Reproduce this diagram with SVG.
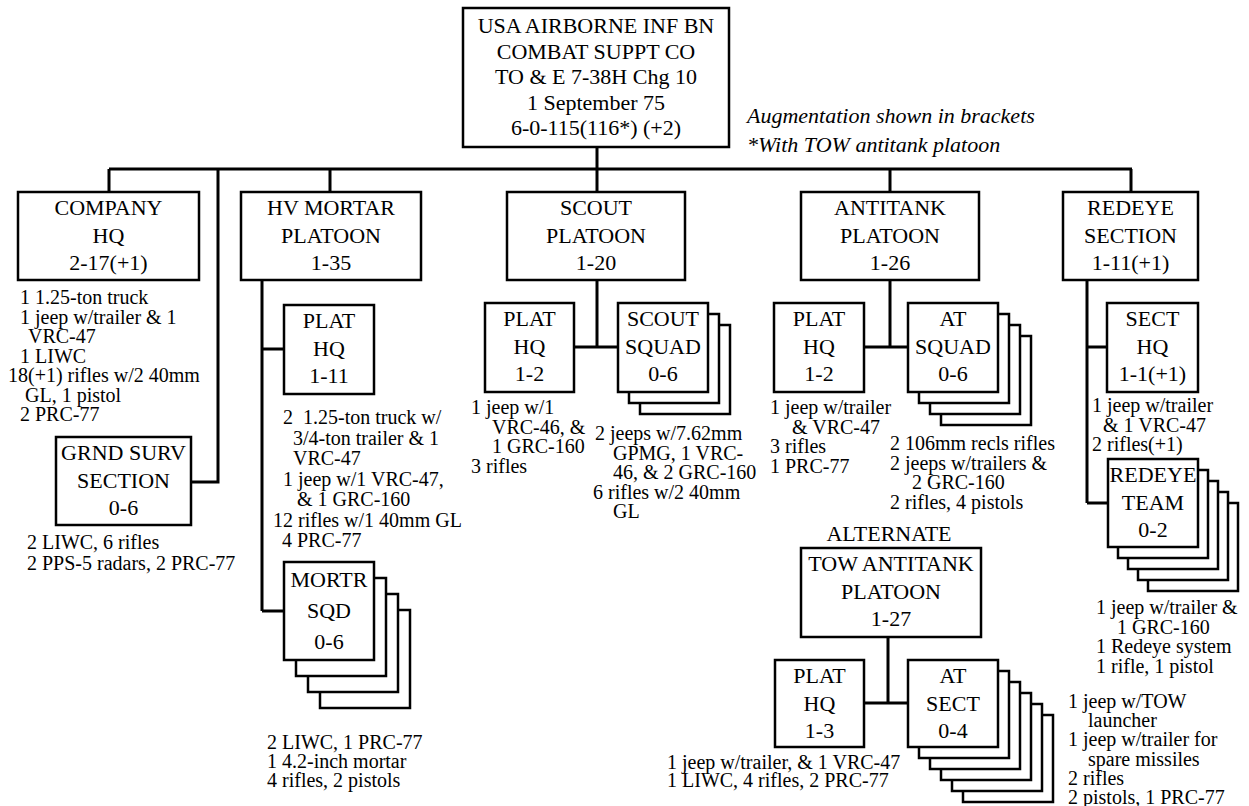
<svg xmlns="http://www.w3.org/2000/svg" width="1249" height="806" viewBox="0 0 1249 806">
<style>
.box{fill:#fff;stroke:#000;stroke-width:2.5}
.c{fill:none;stroke:#000;stroke-width:3}
.t{font-family:"Liberation Serif","Times New Roman",serif;font-size:22px;text-anchor:middle;fill:#000}
.n{font-family:"Liberation Serif","Times New Roman",serif;font-size:20px;fill:#000;white-space:pre}
.i{font-family:"Liberation Serif","Times New Roman",serif;font-size:22px;font-style:italic;fill:#000}
</style>
<rect width="1249" height="806" fill="#fff"/>
<g id="connectors">
<path class="c" d="M597,147V169 M109,169H1132 M109,169V192 M218,169V482H191 M330,169V192 M597,169V192 M890,169V192 M1131,169V192"/>
<path class="c" d="M262,280V611 M262,349H284 M262,611H284"/>
<path class="c" d="M597,280V347 M574,347H618"/>
<path class="c" d="M890,280V347 M864,347H908"/>
<path class="c" d="M1087,280V503 M1087,347H1107 M1087,503H1108"/>
<path class="c" d="M888,637V703 M864,703H908"/>
</g>
<g id="root">
<rect class="box" x="463" y="8" width="266" height="139"/>
<text class="t" x="596" y="33">USA AIRBORNE INF BN</text>
<text class="t" x="596" y="59">COMBAT SUPPT CO</text>
<text class="t" x="596" y="84">TO &amp; E 7-38H Chg 10</text>
<text class="t" x="596" y="110">1 September 75</text>
<text class="t" x="596" y="135">6-0-115(116*) (+2)</text>
</g>
<g id="legend">
<text class="i" x="747" y="123">Augmentation shown in brackets</text>
<text class="i" x="747" y="152">*With TOW antitank platoon</text>
</g>
<g id="company-hq">
<rect class="box" x="18" y="192" width="181" height="88"/>
<text class="t" x="108.5" y="215">COMPANY</text>
<text class="t" x="108.5" y="242.5">HQ</text>
<text class="t" x="108.5" y="270">2-17(+1)</text>
<text class="n" x="20" y="304">1 1.25-ton truck</text>
<text class="n" x="20" y="323.5">1 jeep w/trailer &amp; 1</text>
<text class="n" x="28" y="343">VRC-47</text>
<text class="n" x="20" y="362.5">1 LIWC</text>
<text class="n" x="8" y="382">18(+1) rifles w/2 40mm</text>
<text class="n" x="25" y="401.5">GL, 1 pistol</text>
<text class="n" x="20" y="421">2 PRC-77</text>
</g>
<g id="grnd-surv">
<rect class="box" x="56" y="437" width="135" height="88"/>
<text class="t" x="123.5" y="460">GRND SURV</text>
<text class="t" x="123.5" y="487.5">SECTION</text>
<text class="t" x="123.5" y="515">0-6</text>
<text class="n" x="27" y="549">2 LIWC, 6 rifles</text>
<text class="n" x="27" y="570">2 PPS-5 radars, 2 PRC-77</text>
</g>
<g id="hv-mortar">
<rect class="box" x="241" y="192" width="180" height="88"/>
<text class="t" x="331" y="215">HV MORTAR</text>
<text class="t" x="331" y="242.5">PLATOON</text>
<text class="t" x="331" y="270">1-35</text>
</g>
<g id="hv-plat-hq">
<rect class="box" x="284" y="305" width="90" height="89"/>
<text class="t" x="329" y="328">PLAT</text>
<text class="t" x="329" y="355.5">HQ</text>
<text class="t" x="329" y="383">1-11</text>
<text class="n" x="283" y="424">2  1.25-ton truck w/</text>
<text class="n" x="293" y="444.5">3/4-ton trailer &amp; 1</text>
<text class="n" x="293" y="465">VRC-47</text>
<text class="n" x="283" y="485.5">1 jeep w/1 VRC-47,</text>
<text class="n" x="297" y="506">&amp; 1 GRC-160</text>
<text class="n" x="273" y="526.5">12 rifles w/1 40mm GL</text>
<text class="n" x="282" y="547">4 PRC-77</text>
</g>
<g id="mortr-sqd">
<rect class="box" x="320" y="610" width="90" height="98"/>
<rect class="box" x="308" y="594" width="90" height="98"/>
<rect class="box" x="296" y="578" width="90" height="98"/>
<rect class="box" x="284" y="562" width="90" height="98"/>
<text class="t" x="329" y="587">MORTR</text>
<text class="t" x="329" y="618">SQD</text>
<text class="t" x="329" y="649">0-6</text>
<text class="n" x="267" y="749">2 LIWC, 1 PRC-77</text>
<text class="n" x="267" y="768">1 4.2-inch mortar</text>
<text class="n" x="267" y="787">4 rifles, 2 pistols</text>
</g>
<g id="scout">
<rect class="box" x="507" y="192" width="178" height="88"/>
<text class="t" x="596" y="215">SCOUT</text>
<text class="t" x="596" y="242.5">PLATOON</text>
<text class="t" x="596" y="270">1-20</text>
</g>
<g id="scout-plat-hq">
<rect class="box" x="485" y="303" width="89" height="89"/>
<text class="t" x="529.5" y="326">PLAT</text>
<text class="t" x="529.5" y="353.5">HQ</text>
<text class="t" x="529.5" y="381">1-2</text>
<text class="n" x="471" y="414">1 jeep w/1</text>
<text class="n" x="492" y="433.5">VRC-46, &amp;</text>
<text class="n" x="492" y="453">1 GRC-160</text>
<text class="n" x="471" y="472.5">3 rifles</text>
</g>
<g id="scout-squad">
<rect class="box" x="640" y="325" width="90" height="89"/>
<rect class="box" x="629" y="314" width="90" height="89"/>
<rect class="box" x="618" y="303" width="90" height="89"/>
<text class="t" x="663" y="326">SCOUT</text>
<text class="t" x="663" y="353.5">SQUAD</text>
<text class="t" x="663" y="381">0-6</text>
<text class="n" x="595" y="440">2 jeeps w/7.62mm</text>
<text class="n" x="613" y="459.5">GPMG, 1 VRC-</text>
<text class="n" x="613" y="479">46, &amp; 2 GRC-160</text>
<text class="n" x="593" y="498.5">6 rifles w/2 40mm</text>
<text class="n" x="613" y="518">GL</text>
</g>
<g id="antitank">
<rect class="box" x="801" y="192" width="178" height="88"/>
<text class="t" x="890" y="215">ANTITANK</text>
<text class="t" x="890" y="242.5">PLATOON</text>
<text class="t" x="890" y="270">1-26</text>
</g>
<g id="at-plat-hq">
<rect class="box" x="774" y="303" width="90" height="89"/>
<text class="t" x="819" y="326">PLAT</text>
<text class="t" x="819" y="353.5">HQ</text>
<text class="t" x="819" y="381">1-2</text>
<text class="n" x="770" y="414">1 jeep w/trailer</text>
<text class="n" x="792" y="433.5">&amp; VRC-47</text>
<text class="n" x="770" y="453">3 rifles</text>
<text class="n" x="770" y="472.5">1 PRC-77</text>
</g>
<g id="at-squad">
<rect class="box" x="941" y="336" width="90" height="89"/>
<rect class="box" x="930" y="325" width="90" height="89"/>
<rect class="box" x="919" y="314" width="90" height="89"/>
<rect class="box" x="908" y="303" width="90" height="89"/>
<text class="t" x="953" y="326">AT</text>
<text class="t" x="953" y="353.5">SQUAD</text>
<text class="t" x="953" y="381">0-6</text>
<text class="n" x="890" y="450">2 106mm recls rifles</text>
<text class="n" x="890" y="469.5">2 jeeps w/trailers &amp;</text>
<text class="n" x="912" y="489">2 GRC-160</text>
<text class="n" x="890" y="508.5">2 rifles, 4 pistols</text>
</g>
<g id="redeye">
<rect class="box" x="1063" y="192" width="135" height="88"/>
<text class="t" x="1130.5" y="215">REDEYE</text>
<text class="t" x="1130.5" y="242.5">SECTION</text>
<text class="t" x="1130.5" y="270">1-11(+1)</text>
</g>
<g id="sect-hq">
<rect class="box" x="1107" y="303" width="91" height="89"/>
<text class="t" x="1152.5" y="326">SECT</text>
<text class="t" x="1152.5" y="353.5">HQ</text>
<text class="t" x="1152.5" y="381">1-1(+1)</text>
<text class="n" x="1092" y="412">1 jeep w/trailer</text>
<text class="n" x="1103" y="431.5">&amp; 1 VRC-47</text>
<text class="n" x="1092" y="451">2 rifles(+1)</text>
</g>
<g id="redeye-team">
<rect class="box" x="1148" y="503" width="90" height="88"/>
<rect class="box" x="1138" y="492" width="90" height="88"/>
<rect class="box" x="1128" y="481" width="90" height="88"/>
<rect class="box" x="1118" y="470" width="90" height="88"/>
<rect class="box" x="1108" y="459" width="90" height="88"/>
<text class="t" x="1153" y="482">REDEYE</text>
<text class="t" x="1153" y="509.5">TEAM</text>
<text class="t" x="1153" y="537">0-2</text>
<text class="n" x="1096" y="614">1 jeep w/trailer &amp;</text>
<text class="n" x="1117" y="633.5">1 GRC-160</text>
<text class="n" x="1096" y="653">1 Redeye system</text>
<text class="n" x="1096" y="672.5">1 rifle, 1 pistol</text>
</g>
<g id="tow-platoon">
<text class="t" x="889" y="541">ALTERNATE</text>
<rect class="box" x="801" y="548" width="180" height="89"/>
<text class="t" x="891" y="571">TOW ANTITANK</text>
<text class="t" x="891" y="598.5">PLATOON</text>
<text class="t" x="891" y="626">1-27</text>
</g>
<g id="tow-plat-hq">
<rect class="box" x="775" y="660" width="89" height="87"/>
<text class="t" x="819.5" y="683">PLAT</text>
<text class="t" x="819.5" y="710.5">HQ</text>
<text class="t" x="819.5" y="738">1-3</text>
<text class="n" x="667" y="769">1 jeep w/trailer, &amp; 1 VRC-47</text>
<text class="n" x="667" y="787">1 LIWC, 4 rifles, 2 PRC-77</text>
</g>
<g id="at-sect">
<rect class="box" x="963" y="715" width="90" height="87"/>
<rect class="box" x="952" y="704" width="90" height="87"/>
<rect class="box" x="941" y="693" width="90" height="87"/>
<rect class="box" x="930" y="682" width="90" height="87"/>
<rect class="box" x="919" y="671" width="90" height="87"/>
<rect class="box" x="908" y="660" width="90" height="87"/>
<text class="t" x="953" y="683">AT</text>
<text class="t" x="953" y="710.5">SECT</text>
<text class="t" x="953" y="738">0-4</text>
<text class="n" x="1068" y="707.5">1 jeep w/TOW</text>
<text class="n" x="1088" y="727">launcher</text>
<text class="n" x="1068" y="746">1 jeep w/trailer for</text>
<text class="n" x="1088" y="765.5">spare missiles</text>
<text class="n" x="1068" y="785">2 rifles</text>
<text class="n" x="1068" y="804">2 pistols, 1 PRC-77</text>
</g>
</svg>
